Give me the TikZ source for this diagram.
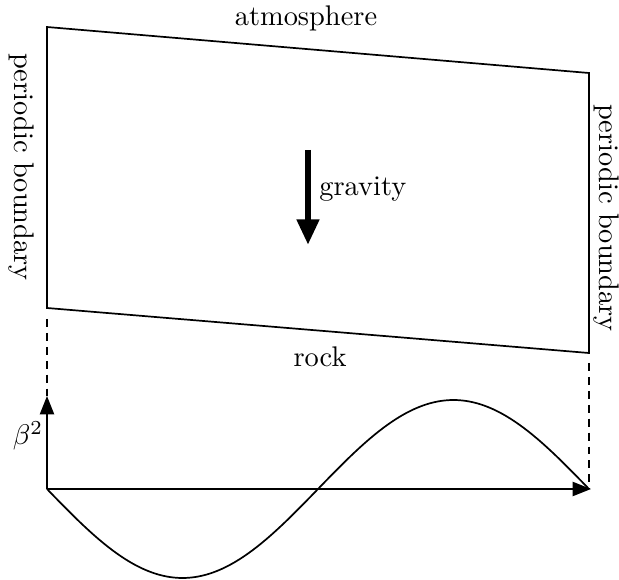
\documentclass[tikz,border=0pt]{standalone}
\usepackage{tikz}
\usetikzlibrary{
	arrows.meta,
	positioning,
	calc
}
\tikzset{
	borde/.style={
		semithick,
		black
	},
	discontinua/.style={
		semithick,
		dash pattern=on 2.8pt off 2.1pt
	},
	eje/.style={
		-{Triangle[length=6.5pt,width=5pt]},
		semithick
	},
	flechaGravedad/.style={
		-{Triangle[length=9pt,width=7.5pt]},
		line width=2.4pt
	},
	etiqueta/.style={
		inner sep=1pt,
		font=\normalsize
	},
	lateral/.style={
		etiqueta,
		rotate=-90
	}
}

\begin{document}
\begin{tikzpicture}[x=0.352pt,y=-0.352pt]
		\useasboundingbox (0,0) rectangle (619,580);
		% dominio
		\coordinate (arribaIzq) at (47,27);
		\coordinate (arribaDer) at (589,73);
		\coordinate (abajoDer) at (589,353);
		\coordinate (abajoIzq) at (47,308);
		\draw[borde] (arribaIzq) -- (arribaDer) -- (abajoDer) -- (abajoIzq) -- cycle;
		\node[etiqueta] (atmosfera) at (306,18) {atmosphere};
		\node[etiqueta] (roca) at (320,357) {rock};
		\node[lateral] (bordeIzq) at (21,167) {periodic boundary};
		\node[lateral] (bordeDer) at (606,218) {periodic boundary};
		% gravedad
		\coordinate (g1) at (308,150);
		\coordinate (g2) at (308,245);
		\draw[flechaGravedad] (g1) -- (g2);
		\node[etiqueta, anchor=west] (gravedad) at (316,189) {gravity};
		% ejes
		\coordinate (origen) at (47,489);
		\coordinate (finEje) at (591,489);
		\coordinate (tope) at (47,396);
		\draw[eje] (origen) -- (finEje);
		\draw[eje] (origen) -- (tope);
		\node[etiqueta] (beta) at (28,436) {$\beta^2$};
		\coordinate (d1) at (47,319);
		\coordinate (d2) at (589,363);
		\coordinate (d3) at (589,489);
		\draw[discontinua] (d1) -- (tope);
		\draw[discontinua] (d2) -- (d3);
		% perfil
		\draw[semithick] plot[domain=0:6.2832, samples=91, smooth]
			({47+542*\x/6.2832}, {489+89*sin(\x r)});
	\end{tikzpicture}
\end{document}
